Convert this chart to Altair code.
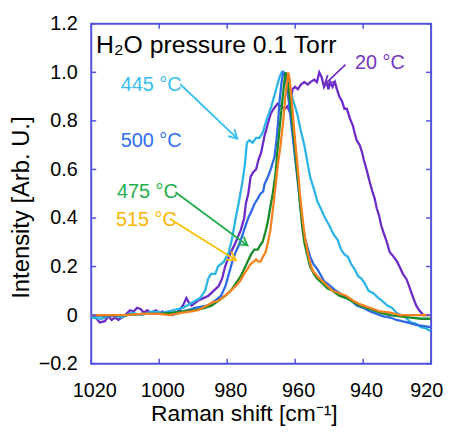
import math
import altair as alt
import pandas as pd

# ---------------- data ----------------
cyan_x = [1020, 1017, 1014, 1011, 1008, 1005, 1002, 999, 996, 993, 990.5, 988, 986.5, 985.6, 984.7, 983.5,
          982.7, 981, 979.5, 978.5, 977.5, 976.5, 975.5, 974.8, 974.2, 973.5, 972.5, 971.5, 970.5, 969.6,
          968.5, 967, 965.8, 964.6, 964.0, 963.4, 962.5, 961.5, 960.5, 959.4, 958.5, 957.3, 956.4, 955.6,
          954.5, 953.5, 952.5, 951.2, 950, 948.6, 947.5, 946.5, 945.5, 944.5, 943.5, 942.5, 941.5, 940.5,
          939.5, 938.4, 937, 935.5, 934.5, 933, 931.5, 930.2, 929, 927.5, 926, 924.5, 923, 921.5, 920.2]
cyan_y = [-0.01, -0.015, 0.0, -0.01, 0.01, 0.0, 0.015, 0.01, 0.02, 0.03, 0.05, 0.07, 0.10, 0.15, 0.17, 0.17,
          0.2, 0.22, 0.26, 0.32, 0.4, 0.47, 0.55, 0.62, 0.71, 0.72, 0.71, 0.73, 0.73, 0.75,
          0.8, 0.86, 0.92, 0.98, 1.0, 1.0, 0.97, 0.93, 0.88, 0.83, 0.77, 0.7, 0.63, 0.57,
          0.52, 0.47, 0.44, 0.40, 0.37, 0.33, 0.31, 0.27, 0.25, 0.24, 0.21, 0.19, 0.16, 0.15,
          0.13, 0.10, 0.09, 0.07, 0.06, 0.04, 0.03, 0.01, 0.0, -0.01, -0.03, -0.035, -0.05, -0.055, -0.065]

purple_x = [1020, 1019, 1017.5, 1016, 1015, 1014, 1013, 1012, 1011, 1010, 1008.6, 1007.5, 1006.5, 1005.5,
            1004.5, 1003.5, 1002.5, 1001, 1000, 999, 998, 997, 996, 995, 994, 993, 992, 991.2, 990.5,
            989.5, 988.5, 987, 985.5, 984, 982.5, 981.5, 980.6, 979.8, 978.5, 977.5, 976.9, 976, 975,
            974.5, 973.8, 973.1, 972.3, 971.5, 970.8, 970, 969, 968.2, 967.2, 966.3, 965.2, 964.2, 963.1,
            962.3, 961.7, 961.2, 960.8, 960, 959.2, 958.3, 957.3, 956.3, 955.5, 954.4, 953.6, 952.9,
            952.2, 951.5, 950.8, 950.2, 949.7, 949, 948.3, 947.7, 947, 946.2, 945.5, 944.8, 943.9, 943,
            942.5, 941.9, 941, 940.3, 939.8, 939, 938.1, 937.3, 936.6, 936, 935.3, 934.7, 934, 933,
            932.2, 931, 930, 929.3, 928.3, 927.3, 926.5, 925.5, 924.4, 923.5, 922.3, 921.5, 920.5]
purple_y = [0.0, -0.005, -0.03, -0.025, -0.005, -0.02, -0.01, -0.02, -0.01, 0.0, 0.02, 0.015, 0.03, 0.025,
            0.01, 0.02, 0.01, 0.02, 0.01, 0.015, 0.005, 0.01, 0.0, 0.01, 0.02, 0.04, 0.07, 0.05, 0.04,
            0.05, 0.06, 0.07, 0.08, 0.10, 0.12, 0.15, 0.2, 0.23, 0.27, 0.30, 0.32, 0.35, 0.40,
            0.46, 0.50, 0.57, 0.59, 0.60, 0.64, 0.67, 0.74, 0.78, 0.83, 0.85, 0.87, 0.86, 0.85,
            0.86, 0.84, 0.88, 0.93, 0.94, 0.93, 0.95, 0.96, 0.95, 0.96, 0.97, 0.96, 1.0,
            0.98, 0.94, 0.96, 0.93, 0.96, 0.94, 0.96, 0.93, 0.9, 0.88, 0.85, 0.85, 0.81, 0.78,
            0.75, 0.72, 0.70, 0.67, 0.64, 0.60, 0.55, 0.51, 0.48, 0.44, 0.41, 0.37, 0.34, 0.30,
            0.26, 0.24, 0.22, 0.20, 0.17, 0.15, 0.12, 0.08, 0.04, 0.02, 0.0, 0.0, 0.0]

blue_x = [1020, 1015, 1010, 1005, 1000, 996, 993, 990.5, 989.4, 987.5, 985.6, 983.5, 981.8, 980.5, 979.5,
          978.5, 977.5, 976.5, 975.5, 974.8, 973.8, 972.8, 971.9, 971, 970.2, 969.4, 969.0, 968, 967.2,
          966.1, 965.5, 965.0, 964.6, 964.0, 963.5, 963.0, 962.2, 961.4, 960.6, 959.8, 959.0, 958.5,
          957.8, 957, 956.2, 955.6, 954.6, 953.5, 952.7, 951.5, 949.7, 948, 945.7, 943.5, 941.9, 940,
          938.1, 936, 934, 932, 930.2, 927, 924.4, 922, 920.2]
blue_y = [0.0, -0.005, 0.0, 0.005, 0.005, 0.01, 0.015, 0.025, 0.03, 0.035, 0.04, 0.06, 0.08, 0.12, 0.17,
          0.22, 0.26, 0.29, 0.33, 0.36, 0.40, 0.43, 0.46, 0.48, 0.50, 0.51, 0.54, 0.57, 0.60,
          0.65, 0.72, 0.80, 0.88, 0.96, 1.0, 0.99, 0.92, 0.82, 0.72, 0.62, 0.52, 0.45,
          0.37, 0.31, 0.27, 0.24, 0.21, 0.19, 0.17, 0.14, 0.12, 0.10, 0.08, 0.06, 0.04, 0.03,
          0.016, 0.005, -0.005, -0.01, -0.02, -0.03, -0.04, -0.045, -0.05]

green_x = [1020, 1015, 1010, 1005, 1000, 996, 993, 990, 988, 986.5, 984.5, 982.5, 980.5, 979, 977.5, 976,
           975, 974, 973, 972, 971, 970.2, 969.6, 968.8, 968.1, 967.5, 966.6, 965.8, 965.2, 964.5, 963.8,
           963.2, 962.8, 962.3, 961.6, 961, 960.3, 959.7, 959, 958.5, 957.9, 957.3, 956.5, 955.6, 954.5,
           953.5, 952, 950.5, 949, 947, 945, 943, 941, 939, 937, 935, 932, 929, 926, 923, 920.2]
green_y = [0.0, 0.0, 0.0, 0.005, 0.005, 0.01, 0.015, 0.02, 0.025, 0.03, 0.04, 0.06, 0.08, 0.10, 0.13, 0.16,
           0.19, 0.22, 0.25, 0.27, 0.27, 0.29, 0.30, 0.34, 0.38, 0.43, 0.50, 0.58, 0.68, 0.78, 0.88,
           0.96, 1.0, 0.97, 0.90, 0.82, 0.72, 0.63, 0.53, 0.45, 0.36, 0.30, 0.25, 0.20, 0.17,
           0.15, 0.13, 0.11, 0.10, 0.08, 0.07, 0.055, 0.04, 0.03, 0.02, 0.01, 0.0, -0.005, -0.01, -0.015, -0.015]

orange_x = [1020, 1015, 1010, 1005, 1000, 997, 995, 993, 990.5, 988.5, 986.5, 984.7, 982.5, 980.6, 979,
            977.5, 976.2, 975, 974, 973.1, 972.2, 971.5, 970.8, 970.2, 969.5, 968.7, 968.0, 967.3, 966.6,
            965.8, 965, 964.3, 963.5, 962.9, 962.3, 962.0, 961.6, 961, 960.4, 959.9, 959.2, 958.6, 958,
            957.5, 957, 956.2, 955.5, 954.7, 953.5, 952, 950.5, 949, 947, 945, 943, 941, 939, 937, 935,
            932, 929, 926, 923, 920.2]
orange_y = [0.0, 0.0, 0.0, 0.005, 0.005, 0.0, 0.005, 0.01, 0.015, 0.02, 0.035, 0.05, 0.06, 0.08, 0.10,
            0.12, 0.14, 0.17, 0.19, 0.21, 0.22, 0.23, 0.22, 0.22, 0.24, 0.26, 0.30, 0.35, 0.43,
            0.53, 0.63, 0.70, 0.80, 0.90, 0.97, 1.0, 0.97, 0.88, 0.78, 0.70, 0.60, 0.50, 0.42,
            0.36, 0.31, 0.25, 0.21, 0.18, 0.16, 0.14, 0.12, 0.10, 0.09, 0.08, 0.06, 0.045, 0.035, 0.025, 0.015,
            0.01, 0.0, 0.0, 0.0, 0.0]

x_ticks = [1020, 1000, 980, 960, 940, 920]
y_ticks = [-0.2, 0.0, 0.2, 0.4, 0.6, 0.8, 1.0, 1.2]

# labels: text, x, y, color
labels = [
    ("445 °C", 1011.3, 0.947, "#38bdf0"),
    ("500 °C", 1011.3, 0.717, "#2f6ff0"),
    ("475 °C", 1012.4, 0.506, "#1fae4e"),
    ("515 °C", 1012.7, 0.393, "#fbb500"),
    ("20 °C", 942.4, 1.04, "#7436c2"),
]
# arrows: x1, y1, x2, y2, color
arrows = [
    (993.8, 0.951, 977.0, 0.727, "#38bdf0"),
    (995.2, 0.506, 974.0, 0.287, "#1fae4e"),
    (996.9, 0.397, 977.4, 0.226, "#fbc000"),
    (945.2, 1.032, 951.3, 0.950, "#7436c2"),
]

W, H = 343, 343
XD = (920, 1020)
YD = (-0.2, 1.2)
AX = "#5252e0"
FONT = "Liberation Sans"

xs = alt.Scale(domain=list(XD), reverse=True, nice=False, zero=False)
ys = alt.Scale(domain=list(YD), nice=False, zero=False)

series = [
    ("20", purple_x, purple_y, "#6c2bc9"),
    ("445", cyan_x, cyan_y, "#2db4e6"),
    ("500", blue_x, blue_y, "#2e6ae6"),
    ("475", green_x, green_y, "#1a8a28"),
    ("515", orange_x, orange_y, "#f5821f"),
]

layers = []
for i, (name, sx, sy, col) in enumerate(series):
    df = pd.DataFrame({"x": sx, "y": sy})
    if i == 0:
        xenc = alt.X("x:Q", scale=xs, axis=alt.Axis(
            values=x_ticks, ticks=False, grid=False, domain=False, labelFontSize=20, labelFont=FONT,
            labelColor="black", labelPadding=17, format="d",
            labelOffset={"condition": {"test": "datum.value == 920", "value": -5}, "value": 3},
            title="Raman shift [cm⁻¹]", titleFont=FONT,
            titleFontSize=23, titleFontWeight="normal", titleColor="black",
            titleX=154, titleY=50, titleAlign="center", titleBaseline="middle",
            labelFlush=False))
        yenc = alt.Y("y:Q", scale=ys, axis=alt.Axis(
            values=y_ticks, ticks=False, grid=False, domain=False, labelFontSize=20, labelFont=FONT,
            labelColor="black", labelPadding=14,
            labelExpr="datum.value == 0 ? '0' : format(datum.value, '.1f')",
            title="Intensity [Arb. U.]", titleFont=FONT, titleFontSize=24, titleFontWeight="normal",
            titleColor="black", titleX=-70, titleY=185, titleAngle=270, titleAlign="center",
            titleBaseline="middle", labelFlush=False))
    else:
        xenc = alt.X("x:Q", scale=xs)
        yenc = alt.Y("y:Q", scale=ys)
    layers.append(alt.Chart(df).mark_line(color=col, strokeWidth=2.3, clip=True).encode(x=xenc, y=yenc))

# inward ticks
tx = pd.DataFrame({"x": x_ticks})
ty = pd.DataFrame({"y": y_ticks})
TL = 5
layers.append(alt.Chart(tx).mark_rule(color=AX, strokeWidth=1.5).encode(
    x=alt.X("x:Q", scale=xs), y=alt.value(H), y2=alt.value(H - TL)))
layers.append(alt.Chart(tx).mark_rule(color=AX, strokeWidth=1.5).encode(
    x=alt.X("x:Q", scale=xs), y=alt.value(0), y2=alt.value(TL)))
layers.append(alt.Chart(ty).mark_rule(color=AX, strokeWidth=1.5).encode(
    y=alt.Y("y:Q", scale=ys), x=alt.value(0), x2=alt.value(TL)))
layers.append(alt.Chart(ty).mark_rule(color=AX, strokeWidth=1.5).encode(
    y=alt.Y("y:Q", scale=ys), x=alt.value(W), x2=alt.value(W - TL)))

# arrows
px_x = W / (XD[1] - XD[0])
px_y = H / (YD[1] - YD[0])
arr_rows = []
for x1, y1, x2, y2, col in arrows:
    dx = -(x2 - x1) * px_x
    dy = -(y2 - y1) * px_y
    ang = math.degrees(math.atan2(dx, -dy)) % 360
    arr_rows.append({"x1": x1, "y1": y1, "x2": x2, "y2": y2, "c": col, "a": ang})
adf = pd.DataFrame(arr_rows)
layers.append(alt.Chart(adf).mark_rule(strokeWidth=1.8).encode(
    x=alt.X("x1:Q", scale=xs), y=alt.Y("y1:Q", scale=ys),
    x2="x2:Q", y2="y2:Q", color=alt.Color("c:N", scale=None)))
layers.append(alt.Chart(adf).mark_point(
    shape="M-0.55,1 L0,0 L0.55,1", filled=False, size=300, strokeWidth=1.8, opacity=1).encode(
    x=alt.X("x2:Q", scale=xs), y=alt.Y("y2:Q", scale=ys),
    color=alt.Color("c:N", scale=None), angle=alt.Angle("a:Q", scale=None)))

# labels
ldf = pd.DataFrame([{"t": t, "x": x, "y": y, "c": c} for t, x, y, c in labels])
layers.append(alt.Chart(ldf).mark_text(align="left", baseline="middle", fontSize=20, font=FONT).encode(
    x=alt.X("x:Q", scale=xs), y=alt.Y("y:Q", scale=ys), text="t:N", color=alt.Color("c:N", scale=None)))

tdf = pd.DataFrame([{"t": "H₂O pressure 0.1 Torr", "x": 1018.6, "y": 1.113}])
layers.append(alt.Chart(tdf).mark_text(align="left", baseline="middle", fontSize=25, font=FONT,
                                       color="black").encode(
    x=alt.X("x:Q", scale=xs), y=alt.Y("y:Q", scale=ys), text="t:N"))

chart = alt.layer(*layers).properties(
    width=W, height=H,
    autosize=alt.AutoSizeParams(type="none"),
    padding={"left": 84, "top": 14, "right": 12, "bottom": 62},
).configure_view(stroke=AX, strokeWidth=2)

chart.save("out.html", embed_options={"renderer": "svg", "actions": False})
